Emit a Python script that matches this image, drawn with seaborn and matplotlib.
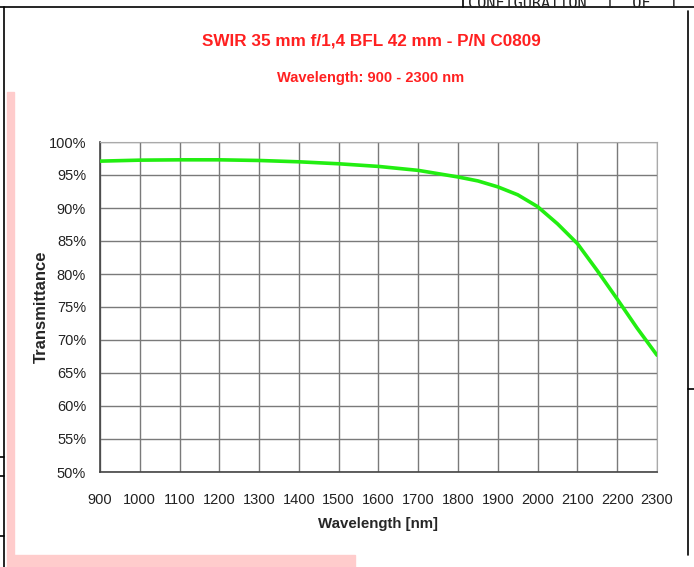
import pandas as pd
import matplotlib.pyplot as plt
import seaborn as sns
from matplotlib.patches import Rectangle
from matplotlib.lines import Line2D

# Transmittance curve
wavelength = [900, 1000, 1100, 1200, 1300, 1400, 1500, 1600, 1700, 1800,
              1850, 1900, 1950, 2000, 2050, 2100, 2150, 2200, 2250, 2300]
transmittance = [97.1, 97.25, 97.3, 97.3, 97.2, 97.0, 96.7, 96.3, 95.7, 94.7,
                 94.1, 93.2, 92.0, 90.2, 87.6, 84.6, 80.5, 76.2, 71.8, 67.7]

x_ticks = list(range(900, 2301, 100))
y_ticks = list(range(50, 101, 5))

title = "SWIR 35 mm f/1,4 BFL 42 mm - P/N C0809"
subtitle = "Wavelength: 900 - 2300 nm"

df = pd.DataFrame({"Wavelength": wavelength, "Transmittance": transmittance})

sns.set_style("white")
plt.rcParams["font.family"] = ["Liberation Sans", "DejaVu Sans"]

W, H = 694, 567
fig = plt.figure(figsize=(W / 100, H / 100), dpi=100)

def px(x, y):
    # pixel coords (top-left origin) -> figure fraction
    return x / W, 1 - y / H

# screenshot decorations: pink strips and page frame lines
fig.patches.append(Rectangle(px(7, 555), 7 / W, 463 / H, transform=fig.transFigure,
                             color="#ffcccc", zorder=0))
fig.patches.append(Rectangle(px(7, 567), 348 / W, 12 / H, transform=fig.transFigure,
                             color="#ffcccc", zorder=0))
for (x0, y0), (x1, y1) in [((0, 7), (694, 7)), ((4, 7), (4, 567)),
                           ((688, 11), (688, 555)), ((463, 0), (463, 7)),
                           ((688, 389), (694, 389)), ((0, 457), (4, 457)),
                           ((0, 476), (4, 476)), ((0, 536), (4, 536))]:
    a, b = px(x0, y0)
    c, d = px(x1, y1)
    fig.lines.append(Line2D([a, c], [b, d], transform=fig.transFigure,
                            color="black", lw=1.2))
# header text of the page, cut by the top edge like in the screenshot
fig.text(*px(468, 3), "CONFIGURATION  1  OF  1", family="DejaVu Sans Mono",
         fontsize=11, va="center", ha="left", color="#222222")

left, right, top, bottom = 100, 657, 142, 472
ax = fig.add_axes([left / W, 1 - bottom / H, (right - left) / W, (bottom - top) / H])

sns.lineplot(data=df, x="Wavelength", y="Transmittance", ax=ax,
             color="#22ee11", lw=2.6, zorder=3)

ax.set_xlim(900, 2300)
ax.set_ylim(50, 100)
ax.set_xticks(x_ticks)
ax.set_yticks(y_ticks)
ax.set_yticklabels([f"{v}%" for v in y_ticks])
ax.grid(True, color="#7a7a7a", lw=1.0)
ax.tick_params(axis="both", length=4, width=1, color="#555555",
               labelsize=10.5, labelcolor="#222222", direction="out")
ax.tick_params(axis="x", pad=11)
ax.tick_params(axis="y", pad=6)
for side in ["top", "right"]:
    ax.spines[side].set_color("#aaaaaa")
for side in ["left", "bottom"]:
    ax.spines[side].set_color("#444444")
    ax.spines[side].set_linewidth(1.2)

ax.set_xlabel("Wavelength [nm]", fontsize=10.8, fontweight="bold", labelpad=7)
ax.set_ylabel("Transmittance", fontsize=12, fontweight="bold", labelpad=0)

fig.text(*px(371, 41), title, color="#ff2020", fontsize=12.3, fontweight="bold",
         ha="center", va="center")
fig.text(*px(371, 78), subtitle, color="#ff2020", fontsize=10.5, fontweight="bold",
         ha="center", va="center")

plt.savefig("out.png", dpi=100)
plt.close()
